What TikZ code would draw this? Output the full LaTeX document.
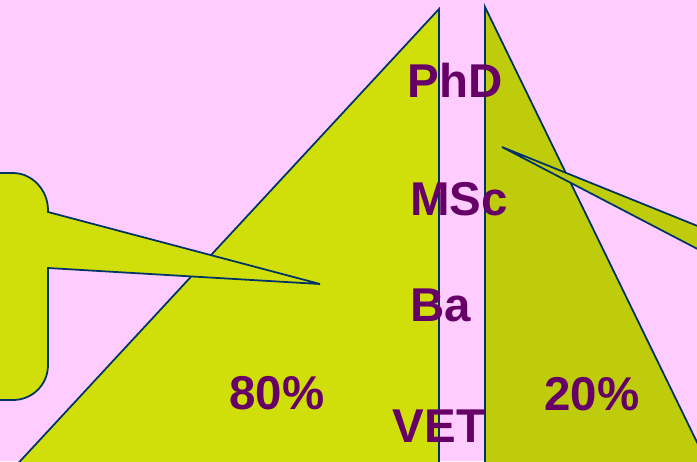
\documentclass[tikz,border=0pt]{standalone}
\usepackage{fontspec}
\setmainfont{Liberation Sans}
\usetikzlibrary{positioning}
\definecolor{bgpink}{HTML}{FFCCFF}
\definecolor{leftgreen}{HTML}{D0DE0A}
\definecolor{rightgreen}{HTML}{BFCC0B}
\definecolor{edgeblue}{HTML}{003366}
\definecolor{labelpurple}{HTML}{660066}
\tikzset{
  wedge/.style={
    draw = edgeblue,
    line width = 1pt,
    line join = miter
  },
  level/.style={
    text = labelpurple,
    font = \fontsize{27}{30}\selectfont\bfseries,
    inner sep = 0pt
  },
}

\begin{document}
\begin{tikzpicture}[x=0.02cm,y=-0.02cm]
    \def\W{697}
    \def\H{461}
    \useasboundingbox (0,0) rectangle (\W,\H);
    \clip (0,0) rectangle (\W,\H);
    \fill[bgpink] (0,0) rectangle (\W,\H);
    % the two triangles
    \draw[wedge,fill=leftgreen] (439,9) -- (439,\H+10) -- (11,\H+10) -- cycle;
    \draw[wedge,fill=rightgreen] (485,7) -- (485,\H+10) -- (711,\H+10) -- cycle;
    % callouts
    \draw[wedge,fill=leftgreen] (-20,173) -- (13,173)
        .. controls (32,173) and (48,190) .. (48,210) -- (48,212)
        -- (320,284) -- (48,268) -- (48,365)
        .. controls (48,385) and (32,400) .. (13,400) -- (-20,400) -- cycle;
    \draw[wedge,fill=rightgreen] (502,147) -- (757,250) -- (757,280) -- cycle;
    % labels
    \node[level] (phd) at (455,80) {PhD};
    \node[level] (msc) at (459,199) {MSc};
    \node[level] (ba) at (441,305) {Ba};
    \node[level] (vet) at (439,426) {VET};
    \node[level] (eighty) at (277,393) {80\%};
    \node[level] (twenty) at (592,394) {20\%};
\end{tikzpicture}
\end{document}
